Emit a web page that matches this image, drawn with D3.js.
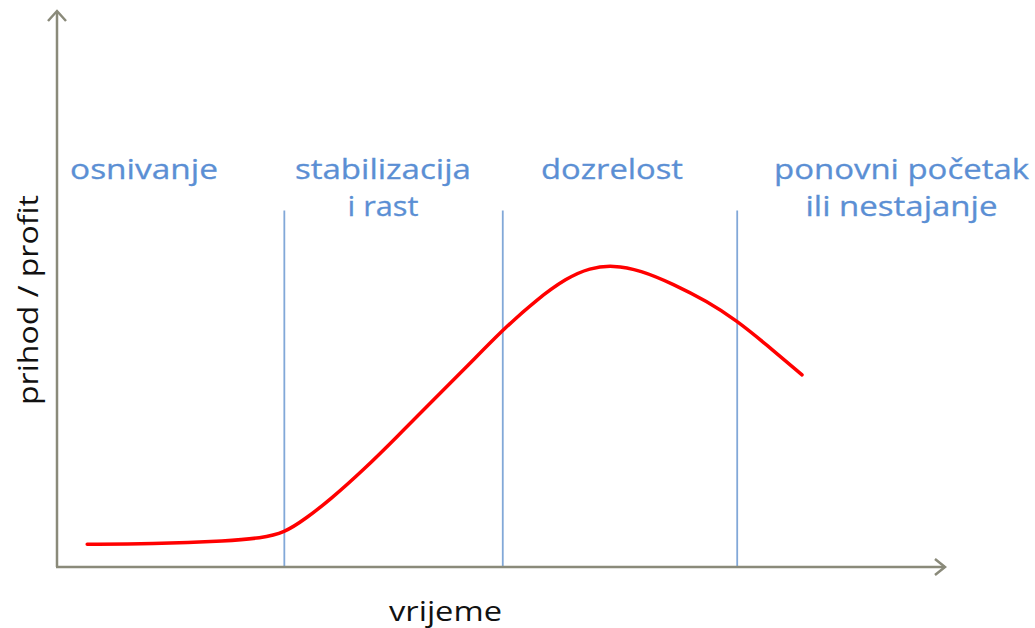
<!DOCTYPE html>
<html><head><meta charset="utf-8">
<script src="https://cdn.jsdelivr.net/npm/d3@7"></script>
<style>html,body{margin:0;padding:0;background:#fff}svg{display:block}</style>
</head><body>
<script>
// Data (time vs revenue/profit, arbitrary units 0-100)
const curveX = [3.4, 10.5, 19.5, 22.9, 25.6, 28.1, 30.7, 34.5, 38.3, 42.0, 46.0, 50.2, 54.0, 57.4, 60.0, 62.6, 65.7, 69.4, 73.2, 76.5, 79.9, 83.9];
const curveY = [4.1, 4.1, 4.7, 5.2, 6.1, 8.8, 12.0, 17.4, 23.4, 29.4, 35.7, 42.6, 48.0, 51.9, 53.7, 54.2, 53.3, 50.8, 47.7, 44.3, 39.9, 34.5];
const phaseBoundaries = [25.6, 50.2, 76.6];
const phaseLabels = [["osnivanje"], ["stabilizacija", "i rast"], ["dozrelost"], ["ponovni početak", "ili nestajanje"]];
const phaseCenters = [9.8, 36.7, 62.5, 95.1];
const xLabel = "vrijeme";
const yLabel = "prihod / profit";

const phaseWidths = [[148], [176, 71], [142], [255, 192]];

const W = 1035, H = 628;
const svg = d3.select("body").append("svg").attr("width", W).attr("height", H);
const x = d3.scaleLinear().domain([0, 100]).range([57, 945]);
const y = d3.scaleLinear().domain([0, 100]).range([567, 10]);
const font = "'Open Sans', sans-serif";
const axisCol = "#8a8a7a";

// phase lines
svg.selectAll("line.phase").data(phaseBoundaries).enter().append("line")
  .attr("x1", d => x(d)).attr("x2", d => x(d))
  .attr("y1", y(64)).attr("y2", y(0))
  .attr("stroke", "#82a8d8").attr("stroke-width", 1.8);

// axes
svg.append("line").attr("x1", x(0)).attr("x2", x(0)).attr("y1", y(0)).attr("y2", y(100) + 2)
  .attr("stroke", axisCol).attr("stroke-width", 2.5);
svg.append("path").attr("d", `M${x(0)-9},${y(100)+11} L${x(0)},${y(100)+1} L${x(0)+9},${y(100)+11}`)
  .attr("fill", "none").attr("stroke", axisCol).attr("stroke-width", 2.5);
svg.append("line").attr("x1", x(0) - 1).attr("x2", x(100)).attr("y1", y(0)).attr("y2", y(0))
  .attr("stroke", axisCol).attr("stroke-width", 2.5);
svg.append("path").attr("d", `M${x(100)-10},${y(0)-8} L${x(100)},${y(0)} L${x(100)-10},${y(0)+8}`)
  .attr("fill", "none").attr("stroke", axisCol).attr("stroke-width", 2.5);

// curve
const pts = curveX.map((d, i) => [d, curveY[i]]);
svg.append("path").datum(pts)
  .attr("d", d3.line().x(d => x(d[0])).y(d => y(d[1])).curve(d3.curveBasis))
  .attr("fill", "none").attr("stroke", "#ff0000").attr("stroke-width", 3.5).attr("stroke-linecap", "round");

// phase labels
phaseLabels.forEach((lines, i) => {
  lines.forEach((t, j) => {
    svg.append("text").attr("x", x(phaseCenters[i])).attr("y", 179 + j * 37)
      .attr("text-anchor", "middle").attr("font-family", font).attr("font-size", 28)
      .attr("textLength", phaseWidths[i][j]).attr("lengthAdjust", "spacingAndGlyphs")
      .attr("fill", "#5b8fd4").attr("stroke", "#5b8fd4").attr("stroke-width", 0.3).text(t);
  });
});

// axis labels
svg.append("text").attr("x", 445.5).attr("y", 621).attr("text-anchor", "middle")
  .attr("font-family", font).attr("font-size", 27).attr("fill", "#111")
  .attr("textLength", 113).attr("lengthAdjust", "spacingAndGlyphs").text(xLabel);
svg.append("text").attr("transform", "translate(38,300) rotate(-90)").attr("text-anchor", "middle")
  .attr("font-family", font).attr("font-size", 27).attr("fill", "#111")
  .attr("textLength", 210).attr("lengthAdjust", "spacingAndGlyphs").text(yLabel);
</script>
</body></html>
